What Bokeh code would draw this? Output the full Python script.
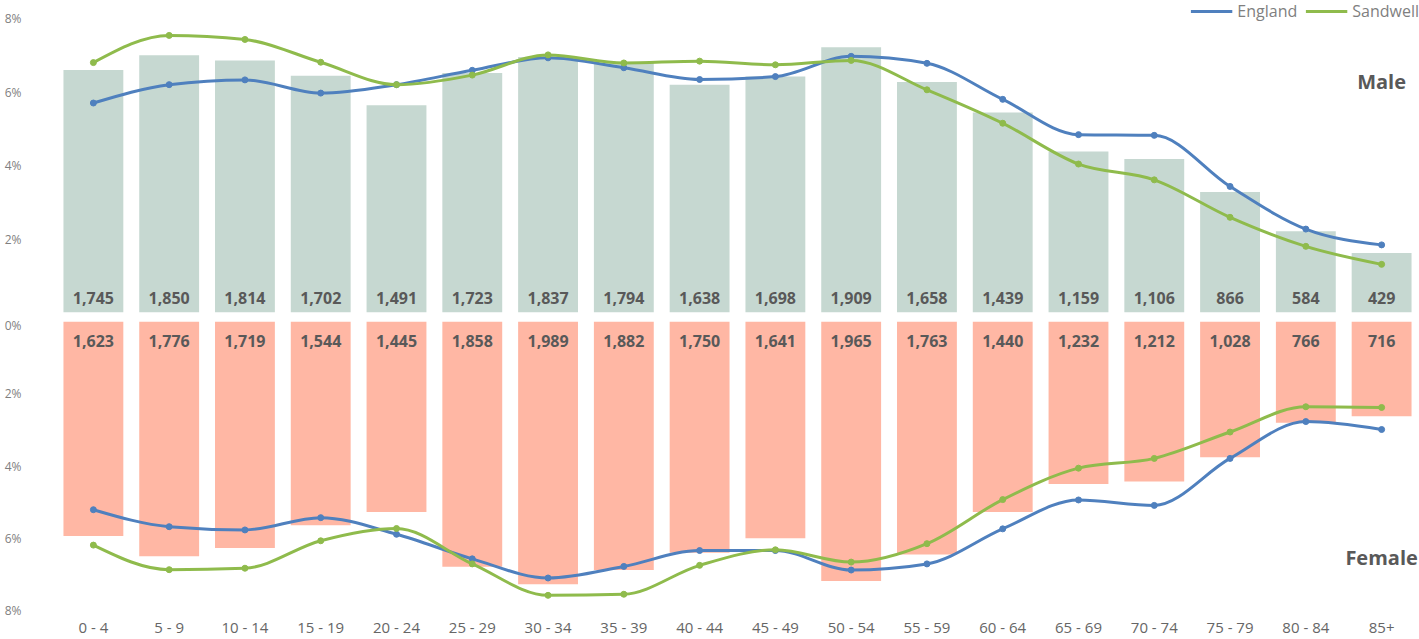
from bokeh.plotting import figure
from bokeh.models import (FactorRange, Range1d, FixedTicker, PrintfTickFormatter,
                          Label, Legend, LegendItem, ColumnDataSource)
from bokeh.layouts import column
from bokeh.embed import file_html
from bokeh.resources import INLINE
from bokeh.core.properties import value

categories = ["0 - 4", "5 - 9", "10 - 14", "15 - 19", "20 - 24", "25 - 29",
              "30 - 34", "35 - 39", "40 - 44", "45 - 49", "50 - 54", "55 - 59",
              "60 - 64", "65 - 69", "70 - 74", "75 - 79", "80 - 84", "85+"]

male_counts = [1745, 1850, 1814, 1702, 1491, 1723, 1837, 1794, 1638,
               1698, 1909, 1658, 1439, 1159, 1106, 866, 584, 429]
female_counts = [1623, 1776, 1719, 1544, 1445, 1858, 1989, 1882, 1750,
                 1641, 1965, 1763, 1440, 1232, 1212, 1028, 766, 716]

male_pct = [6.60, 7.00, 6.86, 6.44, 5.64, 6.52, 6.95, 6.79, 6.20,
            6.42, 7.22, 6.27, 5.44, 4.38, 4.18, 3.28, 2.21, 1.62]
female_pct = [5.94, 6.50, 6.27, 5.64, 5.27, 6.79, 7.27, 6.88, 6.40,
              6.00, 7.18, 6.45, 5.27, 4.50, 4.43, 3.76, 2.80, 2.62]

england_male = [5.70, 6.20, 6.33, 5.97, 6.20, 6.59, 6.93, 6.66, 6.34,
                6.42, 6.97, 6.78, 5.80, 4.84, 4.82, 3.43, 2.27, 1.84]
sandwell_male = [6.80, 7.54, 7.43, 6.81, 6.20, 6.46, 7.01, 6.79, 6.84,
                 6.74, 6.86, 6.06, 5.15, 4.04, 3.61, 2.59, 1.80, 1.31]
england_female = [5.21, 5.68, 5.77, 5.43, 5.89, 6.57, 7.10, 6.78, 6.34,
                  6.34, 6.88, 6.71, 5.74, 4.94, 5.09, 3.79, 2.77, 2.99]
sandwell_female = [6.19, 6.87, 6.83, 6.07, 5.73, 6.71, 7.58, 7.55, 6.75,
                   6.32, 6.66, 6.15, 4.93, 4.06, 3.79, 3.06, 2.36, 2.38]

BLUE = "#4f80be"
GREEN = "#8fbb4c"
MALE_C = "#c6d8d1"
FEMALE_C = "#ffb7a4"
TXT = "#595959"
FONT = "Open Sans"
W = 1419


def _sign(v):
    return (v > 0) - (v < 0)


def smooth_source(vals):
    # monotone cubic Bezier segments through the category centres;
    # only the drawing of the curve, not extra data
    n = len(vals)
    xs = [i + 0.5 for i in range(n)]
    s = [vals[i + 1] - vals[i] for i in range(n - 1)]
    tang = [0.0] * n
    for i in range(1, n - 1):
        p = (s[i - 1] + s[i]) / 2.0
        tang[i] = (_sign(s[i - 1]) + _sign(s[i])) * min(abs(s[i - 1]), abs(s[i]), 0.5 * abs(p))
    tang[0] = (3 * s[0] - tang[1]) / 2.0
    tang[-1] = (3 * s[-1] - tang[-2]) / 2.0
    d = dict(x0=[], y0=[], x1=[], y1=[], cx0=[], cy0=[], cx1=[], cy1=[])
    for i in range(n - 1):
        dx = (xs[i + 1] - xs[i]) / 3.0
        d["x0"].append(xs[i]); d["y0"].append(vals[i])
        d["x1"].append(xs[i + 1]); d["y1"].append(vals[i + 1])
        d["cx0"].append(xs[i] + dx); d["cy0"].append(vals[i] + dx * tang[i])
        d["cx1"].append(xs[i + 1] - dx); d["cy1"].append(vals[i + 1] - dx * tang[i + 1])
    return ColumnDataSource(d)


def style(p):
    p.outline_line_color = None
    p.xgrid.visible = False
    p.ygrid.visible = False
    p.background_fill_color = "white"
    p.border_fill_color = "white"
    ya = p.yaxis[0]
    ya.axis_line_color = None
    ya.major_tick_line_color = None
    ya.minor_tick_line_color = None
    ya.major_label_text_font = FONT
    ya.major_label_text_font_size = "12px"
    ya.major_label_text_color = "#7f7f7f"
    ya.major_label_standoff = 28
    ya.formatter = PrintfTickFormatter(format="%d%%")


def curve(p, vals, color):
    r = p.bezier(x0="x0", y0="y0", x1="x1", y1="y1", cx0="cx0", cy0="cy0",
                 cx1="cx1", cy1="cy1", source=smooth_source(vals),
                 line_color=color, line_width=3)
    p.scatter(x=categories, y=vals, size=6, color=color)
    return r


x_range = FactorRange(factors=categories, range_padding=0)

# ---------------- Male (top) ----------------
p1 = figure(width=W, height=316, x_range=x_range, y_range=Range1d(0, 8.49),
            output_backend="svg", toolbar_location=None, x_axis_location=None,
            min_border_left=55, min_border_right=0, min_border_top=0,
            min_border_bottom=4)
style(p1)
p1.yaxis[0].ticker = FixedTicker(ticks=[2, 4, 6, 8])

src_m = ColumnDataSource(dict(cat=categories, pct=male_pct,
                              lab=[f"{v:,}" for v in male_counts]))
p1.vbar(x="cat", top="pct", bottom=0, width=0.79, source=src_m,
        fill_color=MALE_C, line_color=None)
p1.text(x="cat", y=0, text="lab", source=src_m, y_offset=-15,
        text_align="center", text_baseline="middle", text_font=value(FONT),
        text_font_size="16px", text_font_style="bold", text_color=TXT)

r_em = curve(p1, england_male, BLUE)
r_sm = curve(p1, sandwell_male, GREEN)

p1.add_layout(Label(x=17.5, y=6.29, text="Male", text_align="center",
                    text_baseline="middle", text_font=FONT,
                    text_font_size="20px", text_font_style="bold",
                    text_color=TXT))

legend = Legend(items=[LegendItem(label="England", renderers=[r_em]),
                       LegendItem(label="Sandwell", renderers=[r_sm])],
                orientation="horizontal", location="top_right",
                label_text_font=FONT, label_text_font_size="16px",
                label_text_color="#7f7f7f", glyph_width=42, glyph_height=16,
                label_standoff=5, spacing=8, padding=0, margin=0,
                border_line_color=None, background_fill_alpha=0)
p1.add_layout(legend)

# ---------------- Female (bottom) ----------------
p2 = figure(width=W, height=323, x_range=x_range, y_range=Range1d(8.0, 0),
            output_backend="svg", toolbar_location=None,
            min_border_left=55, min_border_right=0, min_border_top=5,
            min_border_bottom=26)
style(p2)
p2.yaxis[0].ticker = FixedTicker(ticks=[0, 2, 4, 6, 8])
xa = p2.xaxis[0]
xa.axis_line_color = None
xa.major_tick_line_color = None
xa.minor_tick_line_color = None
xa.major_label_text_font = FONT
xa.major_label_text_font_size = "15px"
xa.major_label_text_color = "#666666"
xa.major_label_standoff = 0

src_f = ColumnDataSource(dict(cat=categories, pct=female_pct,
                              lab=[f"{v:,}" for v in female_counts]))
p2.vbar(x="cat", top="pct", bottom=0, width=0.79, source=src_f,
        fill_color=FEMALE_C, line_color=None)
p2.text(x="cat", y=0, text="lab", source=src_f, y_offset=19,
        text_align="center", text_baseline="middle", text_font=value(FONT),
        text_font_size="16px", text_font_style="bold", text_color=TXT)

curve(p2, england_female, BLUE)
curve(p2, sandwell_female, GREEN)

p2.add_layout(Label(x=17.5, y=6.52, text="Female", text_align="center",
                    text_baseline="middle", text_font=FONT,
                    text_font_size="20px", text_font_style="bold",
                    text_color=TXT))

layout = column(p1, p2, spacing=0)
open("out.html", "w").write(file_html(layout, INLINE))
